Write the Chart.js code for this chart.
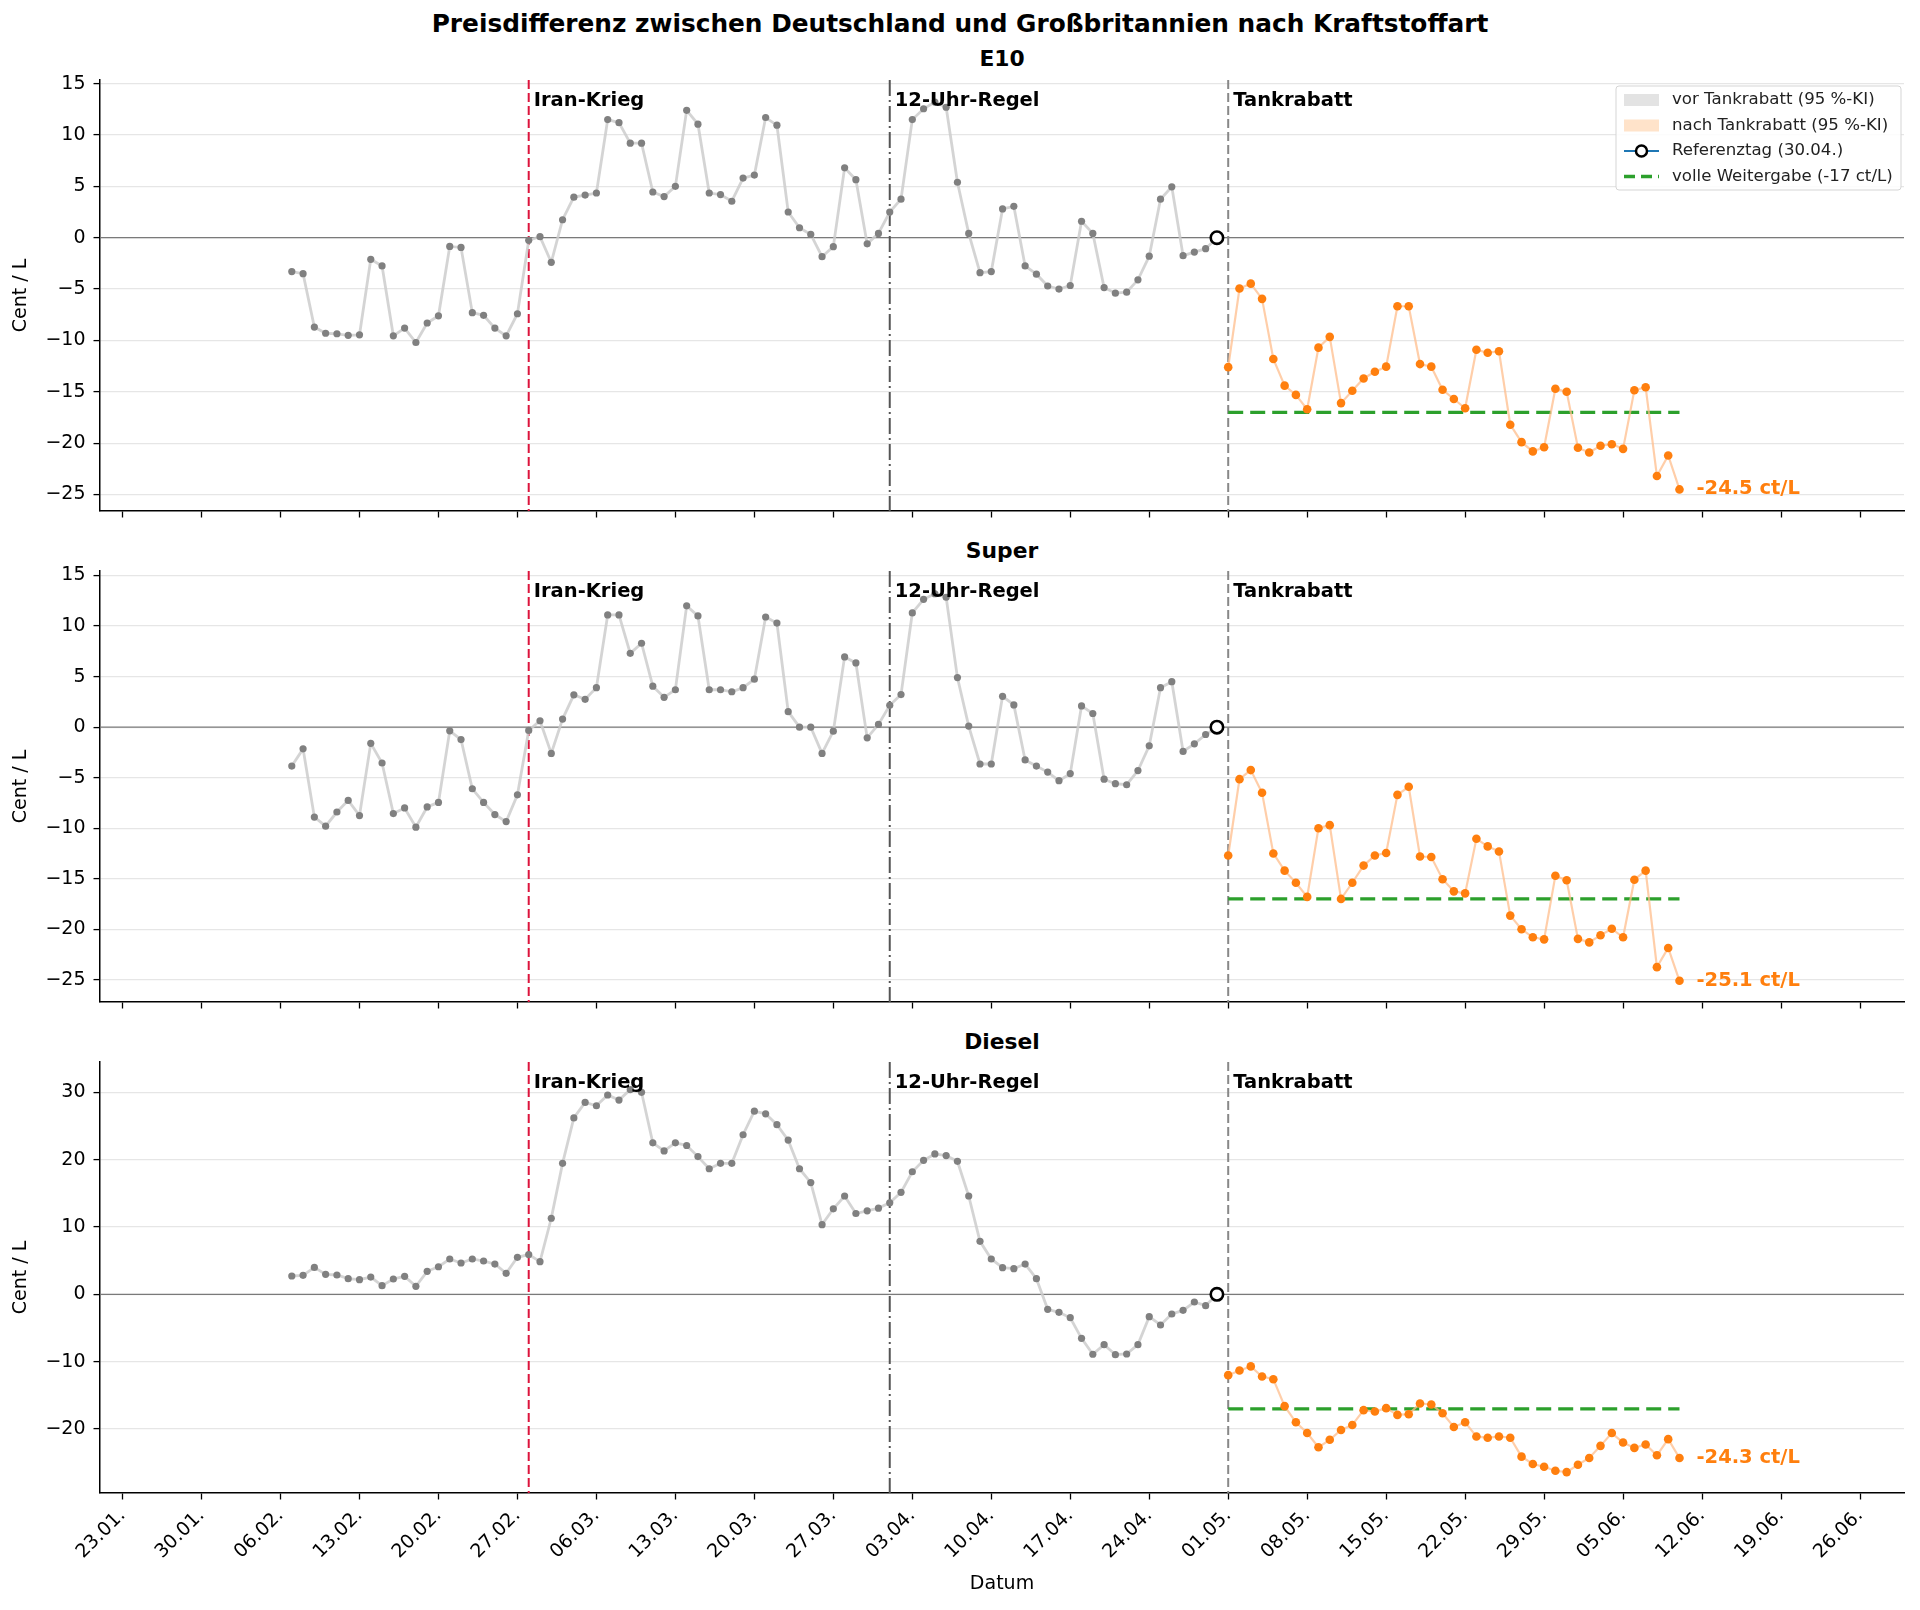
<!DOCTYPE html>
<html>
<head>
<meta charset="utf-8">
<script src="https://cdn.jsdelivr.net/npm/chart.js@4.4.1/dist/chart.umd.min.js"></script>
<style>
    body { margin: 0; background: #fff; font-family: "DejaVu Sans", sans-serif; }
    #wrap { position: relative; width: 1920px; height: 1610px; background: #fff; }
    canvas { position: absolute; left: 0; }
    .title { position: absolute; left: 0; width: 1920px; text-align: center; font-weight: bold; font-size: 24.8px; line-height: 28px; top: 10px; }
    .sub { position: absolute; left: 100px; width: 1804px; text-align: center; font-weight: bold; font-size: 21.8px; line-height: 26px; }
</style>
</head>
<body>
<div id="wrap">
    <div class="title">Preisdifferenz zwischen Deutschland und Großbritannien nach Kraftstoffart</div>
    <div class="sub" style="top:46px">E10</div>
    <div class="sub" style="top:538px">Super</div>
    <div class="sub" style="top:1029px">Diesel</div>
    <canvas id="chartE10" width="1920" height="540" style="top:0px"></canvas>
    <canvas id="chartSuper" width="1920" height="500" style="top:540px"></canvas>
    <canvas id="chartDiesel" width="1920" height="570" style="top:1040px"></canvas>
</div>
<script>
// Achsenbeschriftung (wöchentlich)
const tickLabels = ['23.01.', '30.01.', '06.02.', '13.02.', '20.02.', '27.02.', '06.03.', '13.03.', '20.03.', '27.03.',
    '03.04.', '10.04.', '17.04.', '24.04.', '01.05.', '08.05.', '15.05.', '22.05.', '29.05.', '05.06.', '12.06.', '19.06.', '26.06.'];
const yTicksBenzin = [-25, -20, -15, -10, -5, 0, 5, 10, 15];
const yTicksDiesel = [-20, -10, 0, 10, 20, 30];

// Ereignisse
const eventLabels = ['Iran-Krieg', '12-Uhr-Regel', 'Tankrabatt'];
const eventDates = ['28.02.', '01.04.', '01.05.'];

// tägliche Werte, Start jeweils am ersten Tag
const vorStart = '07.02.';
const nachStart = '01.05.';
const refDay = '30.04.';
const fullPassThrough = -17;

const e10Vor = [-3.3, -3.5, -8.7, -9.3, -9.35, -9.5, -9.45, -2.1, -2.75, -9.55,
    -8.8, -10.2, -8.3, -7.6, -0.85, -0.95, -7.3, -7.55, -8.8, -9.55,
    -7.4, -0.25,
    0.1, -2.4, 1.75, 3.95, 4.15, 4.35, 11.5, 11.2, 9.2, 9.2,
    4.45, 4.0, 5.0, 12.4, 11.05, 4.35, 4.2, 3.55, 5.8,
    6.1, 11.7, 10.95, 2.5, 0.97, 0.32, -1.85, -0.87, 6.8, 5.65, -0.6, 0.42,
    2.5, 3.75, 11.5, 12.55, 13.2, 12.7, 5.4, 0.42, -3.4, -3.3,
    2.8, 3.05, -2.75, -3.55, -4.7, -5.0, -4.65, 1.6, 0.42, -4.85,
    -5.4, -5.3, -4.1, -1.8, 3.75, 4.95, -1.75, -1.4, -1.07, 0];
const e10Nach = [-12.6, -4.95, -4.47, -5.95, -11.8, -14.4, -15.3, -16.7, -10.7, -9.65,
    -16.1, -14.9, -13.7, -13.05, -12.55, -6.67, -6.67, -12.3, -12.55, -14.8,
    -15.7, -16.6, -10.9, -11.2, -11.05, -18.2, -19.9, -20.8, -20.4, -14.7, -15.0,
    -20.45, -20.9, -20.25, -20.1, -20.55, -14.85, -14.55, -23.2, -21.2, -24.5];

const superVor = [-3.85, -2.15, -8.9, -9.8, -8.4, -7.25, -8.75, -1.6, -3.55, -8.55,
    -8.0, -9.9, -7.9, -7.45, -0.37, -1.23, -6.1, -7.45, -8.65, -9.35,
    -6.7, -0.33,
    0.63, -2.6, 0.8, 3.2, 2.75, 3.9, 11.1, 11.1, 7.3, 8.3,
    4.05, 2.95, 3.7, 12.0, 11.0, 3.7, 3.7, 3.5, 3.9,
    4.75, 10.9, 10.3, 1.53, 0, 0, -2.6, -0.4, 6.95, 6.35, -1.06, 0.27,
    2.16, 3.22, 11.3, 12.65, 13.2, 12.85, 4.9, 0.1, -3.65, -3.65,
    3.05, 2.2, -3.25, -3.85, -4.45, -5.3, -4.6, 2.1, 1.35, -5.15,
    -5.6, -5.7, -4.3, -1.85, 3.9, 4.5, -2.4, -1.65, -0.73, 0];
const superNach = [-12.7, -5.15, -4.25, -6.5, -12.5, -14.2, -15.4, -16.8, -10.0, -9.7,
    -17.0, -15.4, -13.7, -12.7, -12.45, -6.7, -5.9, -12.8, -12.85, -15.05,
    -16.25, -16.45, -11.05, -11.8, -12.3, -18.65, -20.0, -20.8, -21.0, -14.7, -15.15,
    -20.95, -21.3, -20.6, -19.95, -20.8, -15.1, -14.2, -23.75, -21.85, -25.1];

const dieselVor = [2.72, 2.82, 4.0, 2.97, 2.87, 2.33, 2.18, 2.57, 1.29, 2.28,
    2.67, 1.19, 3.42, 4.1, 5.25, 4.65, 5.25, 4.95, 4.5, 3.12,
    5.5, 5.9,
    4.85, 11.3, 19.45, 26.2, 28.5, 28.0, 29.6, 28.85, 30.4, 30.0,
    22.5, 21.3, 22.5, 22.1, 20.45, 18.65, 19.45, 19.45, 23.7,
    27.2, 26.8, 25.2, 22.9, 18.65, 16.6, 10.35, 12.7, 14.6, 12.0, 12.4, 12.8,
    13.6, 15.15, 18.2, 19.9, 20.85, 20.6, 19.75, 14.6, 7.87, 5.25,
    3.96, 3.81, 4.5, 2.33, -2.23, -2.67, -3.47, -6.53, -8.9, -7.47,
    -8.96, -8.86, -7.47, -3.32, -4.55, -2.92, -2.38, -1.14, -1.68, 0];
const dieselNach = [-12.0, -11.3, -10.7, -12.2, -12.6, -16.6, -19.0, -20.6, -22.7, -21.6,
    -20.15, -19.4, -17.2, -17.4, -16.9, -17.9, -17.8, -16.2, -16.35, -17.65,
    -19.7, -19.0, -21.1, -21.3, -21.1, -21.3, -24.1, -25.2, -25.6, -26.2, -26.4,
    -25.3, -24.3, -22.5, -20.6, -22.0, -22.8, -22.3, -23.9, -21.5, -24.3];

const FONT = '"DejaVu Sans", sans-serif';
const ORANGE = '#ff7f0e';
const TICK_SIZE = 19;

// "TT.MM." -> Tag im Jahr (0 = 01.01.)
function dayOf(s) {
    const [d, m] = s.split('.').map(Number);
    const cum = [0, 31, 59, 90, 120, 151, 181];
    return cum[m - 1] + d - 1;
}

function toPoints(start, values) {
    const d0 = dayOf(start);
    return values.map((v, i) => ({ x: d0 + i, y: v }));
}

const minus = v => String(v).replace('-', '\u2212');

const eventStyles = [
    { color: '#dc143c', dash: [9, 4] },
    { color: '#555555', dash: [16, 4, 2, 4] },
    { color: '#888888', dash: [9, 4] }
];

const decorPlugin = {
    id: 'decor',
    beforeDatasetsDraw(chart) {
        const { ctx, chartArea: a, scales: { x, y } } = chart;
        ctx.save();
        const y0 = y.getPixelForValue(0);
        ctx.strokeStyle = '#7a7a7a';
        ctx.lineWidth = 1.3;
        ctx.beginPath();
        ctx.moveTo(a.left, y0);
        ctx.lineTo(a.right, y0);
        ctx.stroke();
        eventDates.forEach((d, i) => {
            const px = x.getPixelForValue(dayOf(d));
            ctx.strokeStyle = eventStyles[i].color;
            ctx.lineWidth = 2;
            ctx.setLineDash(eventStyles[i].dash);
            ctx.beginPath();
            ctx.moveTo(px, a.top);
            ctx.lineTo(px, a.bottom);
            ctx.stroke();
        });
        ctx.restore();
    },
    afterDatasetsDraw(chart, args, opts) {
        const { ctx, chartArea: a, scales: { x, y } } = chart;
        ctx.save();
        ctx.font = 'bold 19.5px ' + FONT;
        ctx.textBaseline = 'middle';
        ctx.textAlign = 'left';
        ctx.fillStyle = '#000';
        eventDates.forEach((d, i) => {
            ctx.fillText(eventLabels[i], x.getPixelForValue(dayOf(d)) + 5, a.top + 21);
        });
        // Endwert beschriften
        const nach = opts.nach;
        const lastX = dayOf(nachStart) + nach.length - 1;
        const lastY = nach[nach.length - 1];
        ctx.fillStyle = ORANGE;
        ctx.fillText(lastY.toFixed(1) + ' ct/L', x.getPixelForValue(lastX) + 17, y.getPixelForValue(lastY));
        if (opts.legend) drawLegend(ctx);
        ctx.restore();
    }
};

function drawLegend(ctx) {
    const x0 = 1616, y0 = 86, w = 285, h = 104;
    ctx.fillStyle = 'rgba(255,255,255,0.85)';
    ctx.strokeStyle = '#d5d5d5';
    ctx.lineWidth = 1;
    ctx.beginPath();
    ctx.roundRect(x0, y0, w, h, 3);
    ctx.fill();
    ctx.stroke();
    const rows = [y0 + 14, y0 + 39.5, y0 + 65, y0 + 90.5];
    const sx = x0 + 8, sw = 35;
    // Flächen
    ctx.fillStyle = 'rgba(128,128,128,0.22)';
    ctx.fillRect(sx, rows[0] - 6, sw, 12);
    ctx.fillStyle = 'rgba(255,127,14,0.22)';
    ctx.fillRect(sx, rows[1] - 6, sw, 12);
    // Referenztag
    ctx.strokeStyle = '#1f77b4';
    ctx.lineWidth = 2;
    ctx.beginPath();
    ctx.moveTo(sx, rows[2]);
    ctx.lineTo(sx + sw, rows[2]);
    ctx.stroke();
    ctx.fillStyle = '#fff';
    ctx.strokeStyle = '#000';
    ctx.lineWidth = 2.5;
    ctx.beginPath();
    ctx.arc(sx + sw / 2, rows[2], 5.5, 0, Math.PI * 2);
    ctx.fill();
    ctx.stroke();
    // volle Weitergabe
    ctx.strokeStyle = '#2ca02c';
    ctx.lineWidth = 3.3;
    ctx.setLineDash([11, 6]);
    ctx.beginPath();
    ctx.moveTo(sx, rows[3]);
    ctx.lineTo(sx + sw, rows[3]);
    ctx.stroke();
    ctx.setLineDash([]);
    ctx.fillStyle = '#222';
    ctx.font = '16.6px ' + FONT;
    ctx.textAlign = 'left';
    ctx.textBaseline = 'middle';
    const texts = ['vor Tankrabatt (95 %-KI)', 'nach Tankrabatt (95 %-KI)', 'Referenztag (30.04.)', 'volle Weitergabe (-17 ct/L)'];
    texts.forEach((t, i) => ctx.fillText(t, x0 + 56, rows[i]));
}

function createChart(id, vor, nach, cfg) {
    const ctx = document.getElementById(id).getContext('2d');
    const nachEnd = dayOf(nachStart) + nach.length - 1;
    return new Chart(ctx, {
        type: 'line',
        data: {
            datasets: [{
                label: 'Referenztag',
                data: [{ x: dayOf(refDay), y: 0 }],
                showLine: false,
                pointRadius: 6.2,
                pointBackgroundColor: '#fff',
                pointBorderColor: '#000',
                pointBorderWidth: 2.6
            }, {
                label: 'nach Tankrabatt',
                data: toPoints(nachStart, nach),
                borderColor: 'rgba(255,190,140,0.75)',
                borderWidth: 2.2,
                pointRadius: 4.3,
                pointBackgroundColor: ORANGE,
                pointBorderWidth: 0
            }, {
                label: 'vor Tankrabatt',
                data: toPoints(vorStart, vor),
                borderColor: 'rgba(205,205,205,0.85)',
                borderWidth: 2.8,
                pointRadius: 3.6,
                pointBackgroundColor: '#808080',
                pointBorderWidth: 0
            }, {
                label: 'volle Weitergabe',
                data: [{ x: dayOf(nachStart), y: fullPassThrough }, { x: nachEnd, y: fullPassThrough }],
                borderColor: '#2ca02c',
                borderWidth: 3.3,
                borderDash: [15, 7],
                pointRadius: 0
            }]
        },
        options: {
            responsive: false,
            animation: false,
            events: [],
            layout: { padding: { top: cfg.padTop, left: 6, right: 16, bottom: 0 } },
            plugins: {
                legend: { display: false },
                tooltip: { enabled: false },
                decor: { nach: nach, legend: cfg.legend }
            },
            scales: {
                x: {
                    type: 'linear',
                    min: 20.0,
                    max: 179.9,
                    afterBuildTicks: scale => {
                        scale.ticks = tickLabels.map(t => ({ value: dayOf(t) }));
                    },
                    afterFit: scale => { scale.height = cfg.xHeight; },
                    grid: { drawOnChartArea: false, drawTicks: true, tickLength: 6.5, tickColor: '#000', tickWidth: 1.3 },
                    border: { color: '#000', width: 1.5 },
                    ticks: {
                        display: cfg.showX,
                        autoSkip: false,
                        maxRotation: 45,
                        minRotation: 45,
                        padding: 5,
                        color: '#000',
                        font: { family: FONT, size: TICK_SIZE },
                        callback: (v, i) => tickLabels[i]
                    },
                    title: {
                        display: cfg.showX,
                        text: 'Datum',
                        color: '#000',
                        font: { family: FONT, size: TICK_SIZE },
                        padding: { top: 0, bottom: 15 }
                    }
                },
                y: {
                    min: cfg.yMin,
                    max: cfg.yMax,
                    afterBuildTicks: scale => {
                        scale.ticks = cfg.yTicks.map(v => ({ value: v }));
                    },
                    afterFit: scale => { scale.width = 94; },
                    grid: { color: '#e6e6e6', lineWidth: 1.2, tickLength: 6.5, tickColor: '#000', tickWidth: 1.3 },
                    border: { color: '#000', width: 1.5 },
                    ticks: {
                        padding: 8,
                        color: '#000',
                        font: { family: FONT, size: TICK_SIZE },
                        callback: v => minus(v)
                    },
                    title: {
                        display: true,
                        text: 'Cent / L',
                        color: '#000',
                        font: { family: FONT, size: TICK_SIZE },
                        padding: { top: 4, bottom: 0 }
                    }
                }
            }
        },
        plugins: [decorPlugin]
    });
}

createChart('chartE10', e10Vor, e10Nach,
    { yMin: -26.6, yMax: 15.35, yTicks: yTicksBenzin, padTop: 80, xHeight: 29, showX: false, legend: true });
createChart('chartSuper', superVor, superNach,
    { yMin: -27.2, yMax: 15.45, yTicks: yTicksBenzin, padTop: 31, xHeight: 38, showX: false, legend: false });
createChart('chartDiesel', dieselVor, dieselNach,
    { yMin: -29.5, yMax: 34.5, yTicks: yTicksDiesel, padTop: 22, xHeight: 117, showX: true, legend: false });
</script>
</body>
</html>
